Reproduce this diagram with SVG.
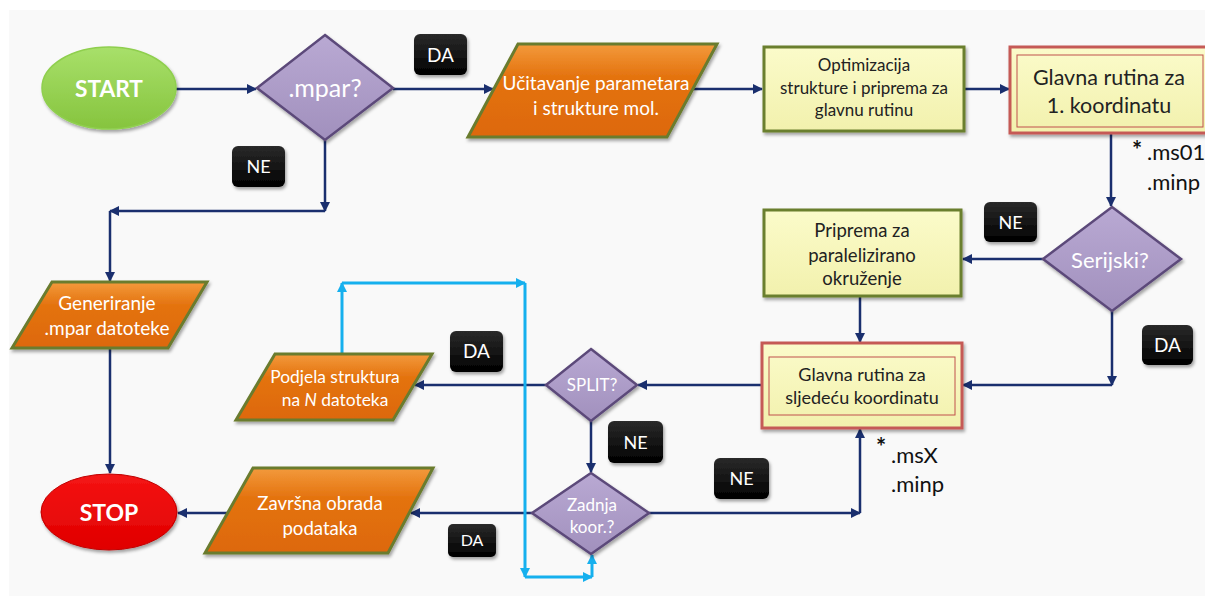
<svg xmlns="http://www.w3.org/2000/svg" width="1205" height="596" viewBox="0 0 1205 596">
<defs>
<linearGradient id="gOrange" x1="0" y1="0" x2="0" y2="1"><stop offset="0" stop-color="#f39a3c"/><stop offset="0.35" stop-color="#e4730f"/><stop offset="1" stop-color="#dd680a"/></linearGradient>
<linearGradient id="gPurple" x1="0" y1="0" x2="0" y2="1"><stop offset="0" stop-color="#b9a9d3"/><stop offset="1" stop-color="#a190bd"/></linearGradient>
<linearGradient id="gYellow" x1="0" y1="0" x2="0" y2="1"><stop offset="0" stop-color="#fbfbca"/><stop offset="1" stop-color="#f2f1ad"/></linearGradient>
<linearGradient id="gGreen" x1="0" y1="0" x2="0" y2="1"><stop offset="0" stop-color="#a8e06a"/><stop offset="1" stop-color="#86c43e"/></linearGradient>
<linearGradient id="gRed" x1="0" y1="0" x2="0" y2="1"><stop offset="0" stop-color="#f51414"/><stop offset="1" stop-color="#e00000"/></linearGradient>
<linearGradient id="gBlack" x1="0" y1="0" x2="0" y2="1"><stop offset="0" stop-color="#2a2a2a"/><stop offset="1" stop-color="#000"/></linearGradient>
<filter id="sh" x="-10%" y="-10%" width="130%" height="140%"><feDropShadow dx="1.5" dy="2.5" stdDeviation="1.8" flood-color="#000" flood-opacity="0.35"/></filter>
<marker id="an" viewBox="0 0 10 10" refX="9" refY="5" markerWidth="10" markerHeight="10" markerUnits="userSpaceOnUse" orient="auto"><path d="M0,0 L10,5 L0,10 z" fill="#1a2f6e"/></marker>
<marker id="ac" viewBox="0 0 10 10" refX="9" refY="5" markerWidth="10" markerHeight="10" markerUnits="userSpaceOnUse" orient="auto"><path d="M0,0 L10,5 L0,10 z" fill="#16b0ee"/></marker>
<style>
.t{font-family:Lato,"Liberation Sans",sans-serif;text-anchor:middle}
.f{font-family:Lato,"Liberation Sans",sans-serif;fill:#111}
.w{fill:#fff}
.d{fill:#222}
.par{fill:url(#gOrange);stroke:#6a7b2e;stroke-width:3;filter:url(#sh)}
.dia{fill:url(#gPurple);stroke:#5c4a7a;stroke-width:2.5;filter:url(#sh)}
.yb{fill:url(#gYellow);stroke:#6b7f2d;stroke-width:3;filter:url(#sh)}
.rb{fill:url(#gYellow);stroke:#c55a57;stroke-width:3;filter:url(#sh)}
.ri{fill:none;stroke:#c0504d;stroke-width:1}
.lb{fill:url(#gBlack);filter:url(#sh)}
.cn{fill:none;stroke:#1a2f6e;stroke-width:2.5;marker-end:url(#an)}
.cc{fill:none;stroke:#16b0ee;stroke-width:3;marker-end:url(#ac)}
</style>
</defs>
<rect x="9" y="10" width="1196" height="586" fill="#f9f9f9"/>

<g id="connectors">
<path class="cn" d="M176,89 H256"/>
<path class="cn" d="M393,89 H493"/>
<path class="cn" d="M693,89 H762"/>
<path class="cn" d="M964,89 H1009"/>
<path class="cn" d="M1111,133 V206"/>
<path class="cn" d="M1043,259 H963"/>
<path class="cn" d="M860,296 V342"/>
<path class="cn" d="M1112,311 V385"/>
<path class="cn" d="M1112,385 H963"/>
<path class="cn" d="M762,385 H638"/>
<path class="cn" d="M546,385 H415"/>
<path class="cn" d="M591,421 V472"/>
<path class="cn" d="M532,513 H411"/>
<path class="cn" d="M228,513 H178"/>
<path class="cn" d="M649,513 H860"/>
<path class="cn" d="M860,513 V429"/>
<path class="cn" d="M325,140 V211"/>
<path class="cn" d="M325,211 H110"/>
<path class="cn" d="M110,211 V281"/>
<path class="cn" d="M110,348 V473"/>
<path class="cc" d="M342,354 V283"/>
<path class="cc" d="M342,283 H525"/>
<path class="cc" d="M525,283 V577"/>
<path class="cc" d="M525,577 H592"/>
<path class="cc" d="M592,577 V555"/>
</g>

<g id="start">
<ellipse cx="109" cy="88" rx="67" ry="41" fill="url(#gGreen)" stroke="#8fcf4e" stroke-width="1.5" filter="url(#sh)"/>
<text class="t w" x="109" y="97" font-size="22.7" font-weight="bold">START</text>
</g>
<g id="mpar">
<polygon class="dia" points="325,35 393,88 325,140 257,88"/>
<text class="t w" x="325" y="97" font-size="25">.mpar?</text>
</g>
<g id="lbl-da1"><rect class="lb" x="414" y="34" width="53" height="41" rx="6"/><text class="t w" x="440.5" y="61.5" font-size="19">DA</text></g>
<g id="lbl-ne1"><rect class="lb" x="232" y="146" width="53" height="41" rx="6"/><text class="t w" x="258.5" y="173" font-size="18">NE</text></g>
<g id="ucitavanje">
<polygon class="par" points="518,44 717,44 667,137 468,137"/>
<text class="t w" x="596" y="90" font-size="19">Učitavanje parametara</text>
<text class="t w" x="596" y="115" font-size="19">i strukture mol.</text>
</g>
<g id="optimizacija">
<rect class="yb" x="764" y="47" width="200" height="84"/>
<text class="t d" x="864" y="71" font-size="17">Optimizacija</text>
<text class="t d" x="864" y="94" font-size="17">strukture i priprema za</text>
<text class="t d" x="864" y="116" font-size="17">glavnu rutinu</text>
</g>
<g id="glavna1">
<rect class="rb" x="1010" y="47" width="200" height="86"/>
<rect class="ri" x="1017" y="55" width="186" height="72"/>
<text class="t d" x="1109" y="84.5" font-size="21.5">Glavna rutina za</text>
<text class="t d" x="1109" y="112.5" font-size="21.5">1. koordinatu</text>
</g>
<g id="files1">
<text class="f" x="1132" y="159" font-size="24" font-weight="bold">*</text>
<text class="f" x="1147" y="160" font-size="22">.ms01</text>
<text class="f" x="1147" y="190" font-size="22">.minp</text>
</g>
<g id="serijski">
<polygon class="dia" points="1112,207 1181,259 1112,311 1043,259"/>
<text class="t w" x="1110" y="268" font-size="22">Serijski?</text>
</g>
<g id="lbl-ne2"><rect class="lb" x="984" y="202" width="53" height="40" rx="6"/><text class="t w" x="1010.5" y="228.5" font-size="18">NE</text></g>
<g id="lbl-da2"><rect class="lb" x="1142" y="325" width="51" height="40" rx="6"/><text class="t w" x="1167.5" y="352" font-size="19">DA</text></g>
<g id="priprema">
<rect class="yb" x="764" y="210" width="197" height="86"/>
<text class="t d" x="862" y="236.5" font-size="18.5">Priprema za</text>
<text class="t d" x="862" y="261.5" font-size="18.5">paralelizirano</text>
<text class="t d" x="862" y="284.5" font-size="18.5">okruženje</text>
</g>
<g id="glavna-next">
<rect class="rb" x="762" y="343" width="200" height="85"/>
<rect class="ri" x="769" y="357" width="186" height="58"/>
<text class="t d" x="862" y="381" font-size="18">Glavna rutina za</text>
<text class="t d" x="862" y="404" font-size="18">sljedeću koordinatu</text>
</g>
<g id="filesX">
<text class="f" x="876" y="456" font-size="24" font-weight="bold">*</text>
<text class="f" x="891" y="463" font-size="22">.msX</text>
<text class="f" x="891" y="492" font-size="22">.minp</text>
</g>
<g id="split">
<polygon class="dia" points="591,349 637,385 591,421 546,385"/>
<text class="t w" x="592" y="391" font-size="17">SPLIT?</text>
</g>
<g id="lbl-da3"><rect class="lb" x="450" y="331" width="53" height="41" rx="6"/><text class="t w" x="476.5" y="358" font-size="19">DA</text></g>
<g id="lbl-ne3"><rect class="lb" x="608" y="421" width="55" height="42" rx="6"/><text class="t w" x="635.5" y="448.5" font-size="18">NE</text></g>
<g id="lbl-ne4"><rect class="lb" x="714" y="458" width="55" height="41" rx="6"/><text class="t w" x="741.5" y="485" font-size="18">NE</text></g>
<g id="lbl-da4"><rect class="lb" x="448" y="524" width="48" height="33" rx="5"/><text class="t w" x="472" y="546" font-size="16">DA</text></g>
<g id="podjela">
<polygon class="par" points="275,354 432,354 393,420 236,420"/>
<text class="t w" x="335" y="383" font-size="17.4">Podjela struktura</text>
<text class="t w" x="335" y="405.5" font-size="17.4">na <tspan font-style="italic">N</tspan> datoteka</text>
</g>
<g id="zadnja">
<polygon class="dia" points="591,473 649,513 591,554 532,513"/>
<text class="t w" x="592" y="511" font-size="17">Zadnja</text>
<text class="t w" x="592" y="533" font-size="17">koor.?</text>
</g>
<g id="zavrsna">
<polygon class="par" points="253,468 433,468 388,553 205,553"/>
<text class="t w" x="320" y="509.5" font-size="18.6">Završna obrada</text>
<text class="t w" x="320" y="534.5" font-size="18.6">podataka</text>
</g>
<g id="stop">
<ellipse cx="109" cy="512" rx="68" ry="38" fill="url(#gRed)" stroke="#c00000" stroke-width="1" filter="url(#sh)"/>
<text class="t w" x="109" y="521" font-size="23" font-weight="bold">STOP</text>
</g>
<g id="generiranje">
<polygon class="par" points="52,282 207,282 168,348 12,348"/>
<text class="t w" x="107" y="309.5" font-size="19">Generiranje</text>
<text class="t w" x="107" y="334.5" font-size="19">.mpar datoteke</text>
</g>
</svg>
